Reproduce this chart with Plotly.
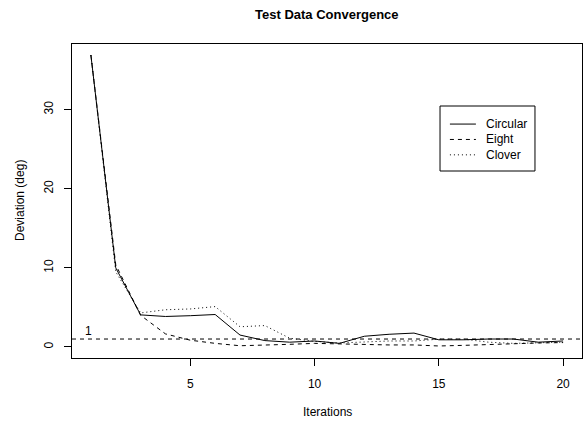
import plotly.graph_objects as go

iterations = list(range(1, 21))
circular = [36.9, 10.0, 4.05, 3.85, 3.95, 4.1, 1.5, 0.8, 0.6, 0.75, 0.45, 1.35, 1.6, 1.75, 0.9, 0.9, 1.0, 1.0, 0.6, 0.75]
eight = [36.9, 10.4, 4.0, 1.65, 0.85, 0.45, 0.15, 0.2, 0.33, 0.45, 0.38, 0.25, 0.25, 0.25, 0.12, 0.2, 0.3, 0.45, 0.5, 0.55]
clover = [36.9, 9.5, 4.3, 4.7, 4.8, 5.1, 2.55, 2.7, 1.1, 0.7, 0.5, 0.65, 0.75, 0.75, 0.98, 0.98, 0.6, 0.45, 0.5, 0.6]
series_names = ["Circular", "Eight", "Clover"]
series_dash = ["solid", "4px,4px", "1px,3px"]
threshold = 1
x_ticks = [5, 10, 15, 20]
y_ticks = [0, 10, 20, 30]

FONT = "Liberation Sans, Arial, sans-serif"

fig = go.Figure()
for name, vals, dash in zip(series_names, [circular, eight, clover], series_dash):
    fig.add_trace(go.Scatter(x=iterations, y=vals, mode="lines", name=name,
                             line=dict(color="black", width=1, dash=dash),
                             showlegend=False))

# reference line
fig.add_shape(type="line", xref="paper", yref="y", x0=0, x1=1, y0=threshold, y1=threshold,
              line=dict(color="black", width=1, dash="4px,4px"))
fig.add_annotation(x=1, y=threshold, xref="x", yref="y", text=str(threshold), showarrow=False,
                   yshift=8, xshift=-2, font=dict(size=12, color="black", family=FONT))

# manual legend (R style)
lx0, lx1, ly0, ly1 = 0.7216, 0.9078, 0.5955, 0.8025
fig.add_shape(type="rect", xref="paper", yref="paper", x0=lx0, x1=lx1, y0=ly0, y1=ly1,
              line=dict(color="black", width=1), fillcolor="white")
rows = [0.745, 0.696, 0.647]
for name, dash, ry in zip(series_names, series_dash, rows):
    fig.add_shape(type="line", xref="paper", yref="paper", x0=0.741, x1=0.792, y0=ry, y1=ry,
                  line=dict(color="black", width=1, dash=dash))
    fig.add_annotation(x=0.808, y=ry, xref="paper", yref="paper", text=name, showarrow=False,
                       xanchor="left", yanchor="middle",
                       font=dict(size=12, color="black", family=FONT))

# titles
fig.add_annotation(x=0.5, y=1, xref="paper", yref="paper", yshift=30, text="<b>Test Data Convergence</b>",
                   showarrow=False, yanchor="middle", font=dict(size=13, color="black", family=FONT))
fig.add_annotation(x=0.5, y=0, xref="paper", yref="paper", yshift=-54, text="Iterations",
                   showarrow=False, yanchor="middle", font=dict(size=12, color="black", family=FONT))
fig.add_annotation(x=0, y=0.5, xref="paper", yref="paper", xshift=-52, text="Deviation (deg)",
                   textangle=-90, showarrow=False, xanchor="center",
                   font=dict(size=12, color="black", family=FONT))

fig.update_xaxes(range=[0.24, 20.76], tickvals=x_ticks, ticks="outside", ticklen=7,
                 tickcolor="black", tickwidth=1, showline=True, linecolor="black", linewidth=1,
                 mirror=True, showgrid=False, zeroline=False, ticklabelstandoff=8,
                 tickfont=dict(size=12, color="black", family=FONT))
fig.update_yaxes(range=[-1.4, 38.3], tickvals=y_ticks, ticks="outside", ticklen=7,
                 tickcolor="black", tickwidth=1, showline=True, linecolor="black", linewidth=1,
                 mirror=True, showgrid=False, zeroline=False, tickangle=-90, ticklabelstandoff=6,
                 tickfont=dict(size=12, color="black", family=FONT))

fig.update_layout(width=588, height=422, margin=dict(l=72, r=6, t=44, b=64),
                  plot_bgcolor="white", paper_bgcolor="white", showlegend=False,
                  font=dict(family=FONT, color="black"))

fig.write_html("out.html")
